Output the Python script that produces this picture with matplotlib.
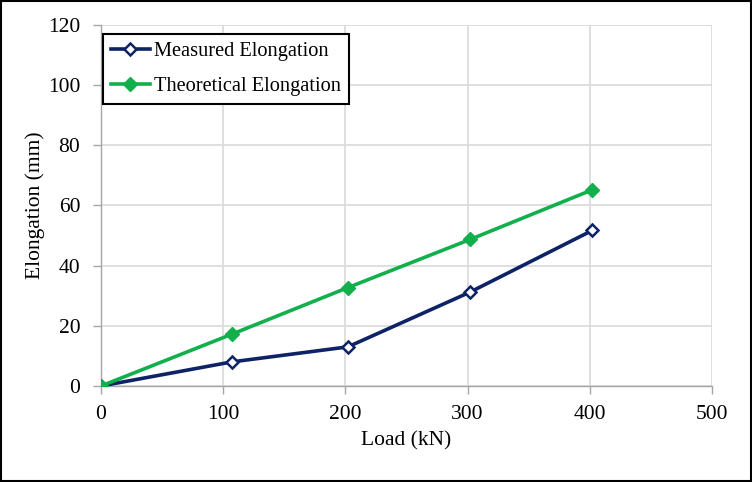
import matplotlib
matplotlib.use("Agg")
import matplotlib.pyplot as plt
from matplotlib.patches import Rectangle

load = [0, 107, 202, 302, 402]
measured = [0, 8.0, 13.0, 31.2, 51.7]
theoretical = [0, 17.2, 32.7, 48.7, 65.2]

plt.rcParams['font.family'] = ['Liberation Serif', 'DejaVu Serif']

fig = plt.figure(figsize=(7.52, 4.82), dpi=100)
ax = fig.add_axes([0.1343, 0.1992, 0.8125, 0.749])

ax.plot(load, measured, color='#0d2366', lw=2.6, marker='D', ms=6.5,
        markerfacecolor='white', markeredgecolor='#0d2366', markeredgewidth=1.8,
        label='Measured Elongation', zorder=3)
ax.plot(load, theoretical, color='#12b04c', lw=2.6, marker='D', ms=7,
        markerfacecolor='#12b04c', markeredgecolor='#12b04c',
        label='Theoretical Elongation', zorder=3)

ax.set_xlim(0, 500)
ax.set_ylim(0, 120)
ax.set_xticks([0, 100, 200, 300, 400, 500])
ax.set_yticks([0, 20, 40, 60, 80, 100, 120])
ax.grid(True, color='#d9d9d9', lw=1.2)
ax.set_axisbelow(True)
for s in ['top', 'right']:
    ax.spines[s].set_visible(False)
for s in ['left', 'bottom']:
    ax.spines[s].set_color('#a6a6a6')
    ax.spines[s].set_linewidth(1.0)
ax.tick_params(axis='both', labelsize=15.5, color='#a6a6a6', length=6, width=1, direction='out')
ax.tick_params(axis='x', pad=8)
ax.tick_params(axis='y', pad=9)
ax.set_xlabel('Load (kN)', fontsize=15.5, labelpad=5)
ax.set_ylabel('Elongation (mm)', fontsize=15.5, labelpad=2)

leg = ax.legend(loc='upper left', bbox_to_anchor=(0.003, 0.975), fontsize=14.7, frameon=True,
                fancybox=False, edgecolor='black', framealpha=1, handlelength=1.9,
                borderpad=0.4, labelspacing=0.75, handletextpad=0.2, borderaxespad=0)
leg.get_frame().set_linewidth(1.5)

fig.patches.append(Rectangle((0.0015, 0.002), 0.997, 0.996, transform=fig.transFigure,
                             fill=False, edgecolor='black', lw=1.5))

fig.savefig('out.png', dpi=100)
